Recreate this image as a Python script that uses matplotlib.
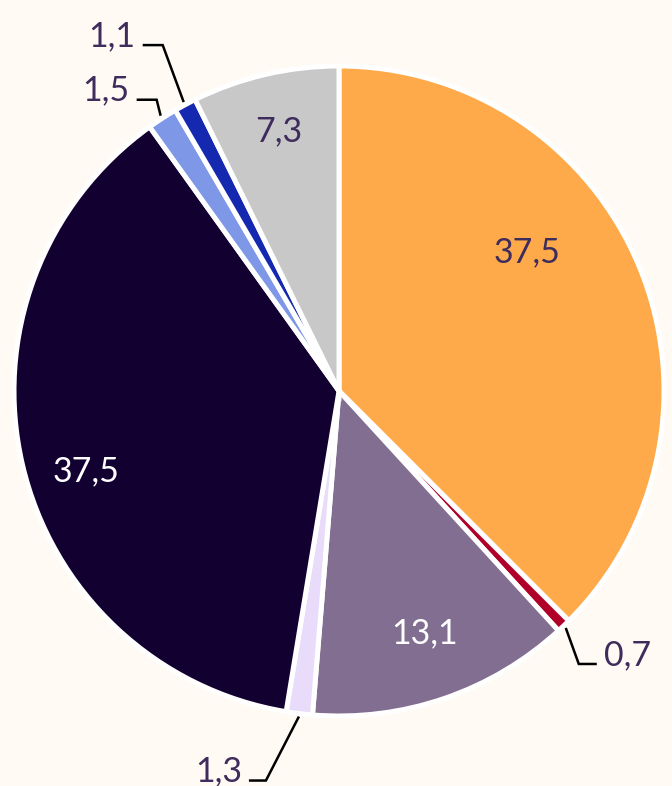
import numpy as np
import matplotlib
matplotlib.use("Agg")
import matplotlib.pyplot as plt

plt.rcParams['font.family'] = ['Lato', 'DejaVu Sans']

# ---- data (clockwise from 12 o'clock) ----
values = [37.5, 0.7, 13.1, 1.3, 37.5, 1.5, 1.1, 7.3]
labels = ["37,5", "0,7", "13,1", "1,3", "37,5", "1,5", "1,1", "7,3"]
colors = ["#FFAA4A", "#B0002A", "#826E91", "#E8DCFA",
          "#120030", "#7E97E6", "#1428B0", "#C8C8C8"]

BG = "#FFFAF3"
TXT = "#3E2C5C"
W, H = 672, 786
CX, CY, R = 339, 786 - 391, 325
FS = 24.5

fig = plt.figure(figsize=(W / 100, H / 100), dpi=100, facecolor=BG)
ax = fig.add_axes([0, 0, 1, 1])

wedges, _ = ax.pie(values, colors=colors, startangle=90, counterclock=False,
                   center=(CX, CY), radius=R,
                   wedgeprops=dict(edgecolor="white", linewidth=3.6))
# pie() resets the limits, so set them afterwards
ax.set_xlim(0, W)
ax.set_ylim(0, H)
ax.set_aspect('equal')
ax.axis('off')

# inside labels: (index, radius fraction, angle tweak in degrees, text colour)
inside = [(0, 0.72, 14, TXT), (2, 0.79, 0.5, "white"),
          (4, 0.815, 4.4, "white"), (7, 0.82, 0, TXT)]
for i, rf, dang, col in inside:
    w = wedges[i]
    ang = np.deg2rad((w.theta1 + w.theta2) / 2 + dang)
    ax.text(CX + rf * R * np.cos(ang), CY + rf * R * np.sin(ang), labels[i],
            ha='center', va='center', fontsize=FS, color=col)

# outside labels with elbow leaders: (index, elbow dx, dy, horizontal run, side)
outside = [(1, 13, -36, 18, 1), (3, -33, -64, -17, -1),
           (5, -4, 16, -20, -1), (6, -21, 57, -20, -1)]
for i, dx, dy, run, side in outside:
    w = wedges[i]
    ang = np.deg2rad((w.theta1 + w.theta2) / 2)
    x0, y0 = CX + (R + 3) * np.cos(ang), CY + (R + 3) * np.sin(ang)
    x1, y1 = x0 + dx, y0 + dy
    x2 = x1 + run
    ax.plot([x0, x1, x2], [y0, y1, y1], color="black", lw=1.8,
            solid_joinstyle='miter', solid_capstyle='butt')
    ax.text(x2 + 7 * side, y1 - 1, labels[i], ha='left' if side > 0 else 'right',
            va='baseline', fontsize=FS, color=TXT)

fig.savefig("out.png", dpi=100, facecolor=BG)
